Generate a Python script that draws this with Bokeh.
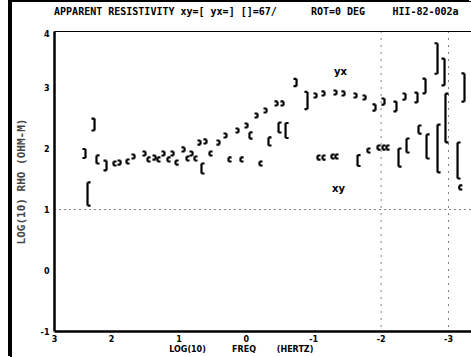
from bokeh.plotting import figure
from bokeh.models import Range1d, FixedTicker, Span, ColumnDataSource, LinearAxis
from bokeh.core.properties import value
from bokeh.embed import file_html
from bokeh.resources import INLINE

# ---- data ----
# yx apparent resistivity, drawn with "]" brackets
yx_logf = [2.386, 2.252, 2.074, 1.866, 1.659, 1.496, 1.347, 1.214, 1.080, 0.917, 0.798, 0.680,
           0.591, 0.398, 0.294, 0.116, -0.018, -0.166, -0.300, -0.463, -0.552, -0.745, -0.908,
           -1.042, -1.160, -1.338, -1.457, -1.635, -1.769, -1.917, -2.050, -2.228, -2.362,
           -2.540, -2.659, -2.837, -2.941, -3.237]
yx_rho = [1.918, 2.393, 1.721, 1.770, 1.869, 1.918, 1.852, 1.918, 1.918, 1.984, 1.918, 2.098,
          2.115, 2.098, 2.213, 2.295, 2.377, 2.541, 2.623, 2.738, 2.738, 3.082, 2.787,
          2.869, 2.902, 2.918, 2.902, 2.869, 2.836, 2.672, 2.770, 2.689, 2.852,
          2.836, 3.025, 3.475, 3.254, 3.000]
yx_err = [0.074, 0.098, 0.08, 0, 0, 0, 0, 0, 0, 0, 0, 0,
          0, 0, 0, 0, 0, 0, 0, 0, 0, 0.06, 0.14,
          0, 0, 0, 0, 0, 0, 0.05, 0.05, 0.08, 0.05,
          0.08, 0.12, 0.25, 0.22, 0.23]

# xy apparent resistivity, drawn with "[" brackets
xy_logf = [2.356, 2.223, 1.970, 1.777, 1.466, 1.318, 1.169, 1.050, 0.887, 0.769, 0.665, 0.546,
           0.264, 0.086, -0.047, -0.196, -0.329, -0.478, -0.582, -1.056, -1.131, -1.264,
           -1.323, -1.650, -1.798, -1.947, -2.021, -2.080, -2.258, -2.377, -2.555, -2.674,
           -2.837, -2.955, -3.134, -3.160]
xy_rho = [1.254, 1.820, 1.754, 1.787, 1.820, 1.820, 1.820, 1.770, 1.836, 1.836, 1.672, 1.918,
          1.820, 1.820, 2.213, 1.754, 2.115, 2.344, 2.295, 1.852, 1.852, 1.869,
          1.869, 1.803, 1.967, 2.016, 2.016, 2.016, 1.852, 2.049, 2.311, 2.033,
          2.000, 2.500, 1.803, 1.361]
xy_err = [0.19, 0.066, 0, 0, 0, 0, 0, 0, 0, 0, 0.082, 0,
          0, 0, 0.05, 0, 0.066, 0.082, 0.123, 0, 0, 0,
          0, 0.09, 0, 0, 0, 0, 0.148, 0.115, 0.066, 0.197,
          0.393, 0.40, 0.295, 0]

x_ticks = [2.846, 2, 1, 0, -1, -2, -3]
x_tick_labels = ["3", "2", "1", "0", "-1", "-2", "-3"]
y_ticks = [-1, 0, 1, 2, 3, 3.89]
y_tick_labels = ["-1", "0", "1", "2", "3", "4"]
ref_y = [1]
ref_x = [-2, -3]

title_parts = ["APPARENT RESISTIVITY xy=[ yx=] []=67/", "ROT=0 DEG", "HII-82-002a"]
x_label_parts = ["LOG(10)", "FREQ", "(HERTZ)"]
y_label = "LOG(10) RHO (OHM-M)"

# ---- layout / style ----
FONT = "DejaVu Sans"
MONO = "DejaVu Sans Mono"
MIN_ERR = 0.033   # smallest drawn half-height
SERIF = 0.045     # bracket serif length in decades
title_pos = [1.20, -1.36, -2.659]        # horizontal centres of the title pieces
x_label_pos = [0.872, 0.034, -0.723]     # horizontal centres of the x-label pieces


def bracket_source(xs, ys, es, direction):
    x0, y0, x1, y1 = [], [], [], []
    for x, y, e in zip(xs, ys, es):
        e = max(e, MIN_ERR)
        x0.append(x); y0.append(y - e); x1.append(x); y1.append(y + e)
        x0.append(x); y0.append(y + e); x1.append(x + direction * SERIF); y1.append(y + e)
        x0.append(x); y0.append(y - e); x1.append(x + direction * SERIF); y1.append(y - e)
    return ColumnDataSource(dict(x0=x0, y0=y0, x1=x1, y1=y1))


def style_labels(ax, font=FONT, size="8px"):
    ax.major_tick_out = 0
    ax.major_tick_in = 0
    ax.minor_tick_out = 0
    ax.minor_tick_in = 0
    ax.major_label_text_font = font
    ax.major_label_text_font_style = "bold"
    ax.major_label_text_font_size = size
    ax.major_label_text_color = "black"


p = figure(width=461, height=356,
           x_range=Range1d(2.846, -3.341), y_range=Range1d(-1.0, 3.918),
           output_backend="svg", toolbar_location=None,
           min_border_left=44, min_border_right=0, min_border_top=30, min_border_bottom=26)
# outer frame lines of the original sheet (left and top edges)
p.styles = {"margin-left": "10px", "margin-top": "1px",
            "box-shadow": "-2px -1px 0px 0px #000000",
            "background": "linear-gradient(to right, #000000 2px, transparent 2px), "
                          "linear-gradient(to bottom, #000000 1px, #ffffff 1px)"}
p.border_fill_alpha = 0
p.background_fill_color = "white"

p.grid.visible = False
p.outline_line_color = None

for ax in (p.xaxis[0], p.yaxis[0]):
    ax.axis_line_width = 2.5
    ax.axis_line_color = "black"
    style_labels(ax)

p.xaxis[0].ticker = FixedTicker(ticks=x_ticks)
p.xaxis[0].major_label_overrides = dict(zip(x_ticks, x_tick_labels))
p.xaxis[0].major_label_standoff = 3
p.yaxis[0].ticker = FixedTicker(ticks=y_ticks)
p.yaxis[0].major_label_overrides = dict(zip(y_ticks, y_tick_labels))
p.yaxis[0].major_label_standoff = 5
p.yaxis[0].major_label_orientation = "horizontal"
p.yaxis[0].axis_label = y_label
p.yaxis[0].axis_label_text_font = MONO
p.yaxis[0].axis_label_text_font_style = "bold"
p.yaxis[0].axis_label_text_font_size = "11px"
p.yaxis[0].axis_label_standoff = 10

# x-axis caption pieces, as a second axis below
cap = LinearAxis(ticker=FixedTicker(ticks=x_label_pos),
                 major_label_overrides=dict(zip(x_label_pos, x_label_parts)),
                 axis_line_color=None, major_label_standoff=0)
style_labels(cap)
p.add_layout(cap, "below")

# title pieces, as an axis above (its line is the top frame line)
top = LinearAxis(ticker=FixedTicker(ticks=title_pos),
                 major_label_overrides=dict(zip(title_pos, title_parts)),
                 axis_line_color="black", axis_line_width=1, major_label_standoff=15)
style_labels(top, MONO, "10px")
p.add_layout(top, "above")

for v in ref_y:
    p.add_layout(Span(location=v, dimension="width", line_color="black",
                      line_width=1, line_dash="1 4"))
for v in ref_x:
    p.add_layout(Span(location=v, dimension="height", line_color="black",
                      line_width=1, line_dash="1 6"))

p.segment("x0", "y0", "x1", "y1", source=bracket_source(xy_logf, xy_rho, xy_err, -1),
          line_color="black", line_width=2.2)
p.segment("x0", "y0", "x1", "y1", source=bracket_source(yx_logf, yx_rho, yx_err, 1),
          line_color="black", line_width=2.2)

# curve labels
p.text(x=[-1.398, -1.368], y=[3.262, 1.344], text=["yx", "xy"],
       text_font=value(FONT), text_font_style="bold", text_font_size="10px",
       text_align="center", text_baseline="middle", text_color="black")

open("out.html", "w").write(file_html(p, INLINE))
